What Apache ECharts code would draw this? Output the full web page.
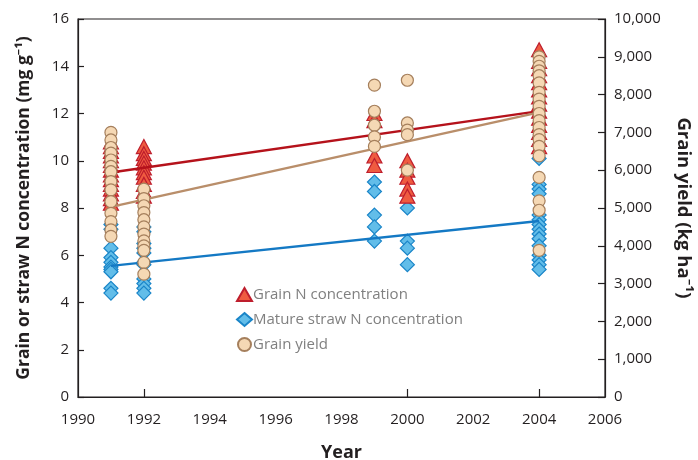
<!DOCTYPE html>
<html>
<head>
<meta charset="utf-8">
<script src="https://cdn.jsdelivr.net/npm/echarts@6/dist/echarts.min.js"></script>
<style>
  html, body { margin: 0; padding: 0; background: #fff; }
  #chart { width: 698px; height: 460px; }
</style>
</head>
<body>
<div id="chart"></div>
<script>
// sampling years
const years = [1991, 1992, 1999, 2000, 2004]

// grain N concentration (mg g-1), per year
const grainN = [
  [10.8, 10.6, 10.4, 10.2, 10.0, 9.8, 9.6, 9.4, 9.2, 9.0, 8.8, 8.6, 8.4, 8.2],
  [10.6, 10.3, 10.1, 9.9, 9.7, 9.5, 9.3, 9.0, 8.7, 8.5],
  [12.0, 11.7, 10.2, 9.8],
  [10.0, 9.6, 9.3, 8.8, 8.5],
  [14.7, 14.2, 13.9, 13.6, 13.3, 13.0, 12.7, 12.4, 12.1, 11.8, 11.5, 11.2, 10.9, 10.6]
]

// mature straw N concentration (mg g-1), per year
const strawN = [
  [7.3, 7.1, 6.3, 5.9, 5.7, 5.5, 5.4, 5.3, 4.6, 4.4],
  [7.2, 7.0, 6.5, 6.3, 6.1, 5.7, 5.6, 5.0, 4.8, 4.6, 4.4],
  [9.1, 8.7, 7.7, 7.2, 6.6],
  [8.0, 6.6, 6.3, 5.6],
  [10.1, 9.0, 8.8, 8.6, 7.7, 7.5, 7.3, 7.1, 6.9, 6.7, 6.4, 6.0, 5.8, 5.6, 5.4]
]

// grain yield (kg ha-1), per year
const grainYield = [
  [7000, 6800, 6600, 6450, 6270, 6100, 5960, 5700, 5480, 5170, 4860, 4640, 4420, 4250],
  [5500, 5250, 5060, 4880, 4690, 4500, 4310, 4130, 4000, 3880, 3560, 3250],
  [8250, 7560, 7190, 6880, 6630],
  [8380, 7250, 7060, 6940, 6000],
  [9000, 8880, 8750, 8630, 8500, 8310, 8060, 7880, 7690, 7500, 7310, 7130, 6940, 6810, 6630, 6380, 5810, 5190, 4940, 3880]
]

// fitted trend lines, endpoints at 1991 and 2004
const trendYears = [1991, 2004]
const grainNTrend = [9.5, 12.1]
const strawNTrend = [5.55, 7.45]
const yieldTrend = [5030, 7530]

const xTicks = [1992, 2000, 2004]

function toPoints(groups) {
  const out = []
  groups.forEach((vals, i) => vals.forEach(v => out.push([years[i], v])))
  return out
}
function toLine(vals) {
  return trendYears.map((y, i) => [y, vals[i]])
}

const font = '"Open Sans", "Noto Sans", sans-serif'
const dark = '#231f20'

const chart = echarts.init(document.getElementById('chart'))
chart.setOption({
  animation: false,
  textStyle: { fontFamily: font },
  grid: {
    left: 78, right: 93, top: 19, bottom: 63, outerBoundsMode: 'none',
    show: true, borderColor: dark, borderWidth: 1.2
  },
  legend: {
    orient: 'vertical', left: 231, top: 282, itemGap: 10, itemWidth: 15, itemHeight: 13,
    data: ['Grain N concentration', 'Mature straw N concentration', 'Grain yield'],
    textStyle: { color: '#808080', fontSize: 15, fontFamily: font, padding: [0, 0, 0, -4] }
  },
  xAxis: {
    type: 'value', min: 1990, max: 2006, interval: 2,
    name: 'Year', nameLocation: 'middle', nameGap: 47,
    nameTextStyle: { fontSize: 18, fontWeight: 'bold', color: dark },
    axisLine: { lineStyle: { color: dark, width: 1.2 } },
    axisTick: { inside: true, length: 8, customValues: xTicks, lineStyle: { color: dark, width: 1.2 } },
    axisLabel: { fontSize: 15, color: dark, margin: 15, formatter: v => String(v) },
    splitLine: { show: false }
  },
  yAxis: [{
    type: 'value', min: 0, max: 16, interval: 2,
    name: 'Grain or straw N concentration (mg g\u207B\u00B9)', nameLocation: 'middle', nameGap: 45, nameRotate: 90,
    nameTextStyle: { fontSize: 17.5, fontWeight: 'bold', color: dark },
    axisLine: { show: true, lineStyle: { color: dark, width: 1.2 } },
    axisTick: { show: true, inside: true, length: 6, lineStyle: { color: dark, width: 1.2 } },
    axisLabel: { fontSize: 15, color: dark, margin: 9 },
    splitLine: { show: false }
  }, {
    type: 'value', min: 0, max: 10000, interval: 1000, position: 'right',
    name: 'Grain yield (kg ha\u207B\u00B9)', nameLocation: 'middle', nameGap: 69, nameRotate: -90,
    nameTextStyle: { fontSize: 18.5, fontWeight: 'bold', color: dark },
    axisLine: { show: true, lineStyle: { color: dark, width: 1.2 } },
    axisTick: { show: true, inside: true, length: 7, lineStyle: { color: dark, width: 1.2 } },
    axisLabel: { fontSize: 15, color: dark, margin: 9, formatter: v => v.toLocaleString('en-US') },
    splitLine: { show: false }
  }],
  series: [
    {
      name: 'Mature straw N concentration', type: 'scatter', z: 2,
      symbol: 'diamond', symbolSize: 14,
      itemStyle: { color: '#62bde9', borderColor: '#1a85c8', borderWidth: 1.2, opacity: 1 },
      data: toPoints(strawN)
    },
    {
      name: 'Grain N concentration', type: 'scatter', z: 3,
      symbol: 'triangle', symbolSize: [15, 14],
      itemStyle: { color: '#ef5b40', borderColor: '#be1e2d', borderWidth: 1.2, opacity: 1 },
      data: toPoints(grainN)
    },
    {
      name: 'trend straw', type: 'line', z: 4, symbol: 'none', silent: true,
      lineStyle: { color: '#1479c4', width: 2.5 }, data: toLine(strawNTrend)
    },
    {
      name: 'trend grain N', type: 'line', z: 4, symbol: 'none', silent: true,
      lineStyle: { color: '#b5121b', width: 2.5 }, data: toLine(grainNTrend)
    },
    {
      name: 'trend yield', type: 'line', z: 4, yAxisIndex: 1, symbol: 'none', silent: true,
      lineStyle: { color: '#b98e6a', width: 2.5 }, data: toLine(yieldTrend)
    },
    {
      name: 'Grain yield', type: 'scatter', z: 5, yAxisIndex: 1,
      symbol: 'circle', symbolSize: 12,
      itemStyle: { color: '#f5d8b4', borderColor: '#a57f5c', borderWidth: 1.2, opacity: 1 },
      data: toPoints(grainYield)
    }
  ]
})
</script>
</body>
</html>
